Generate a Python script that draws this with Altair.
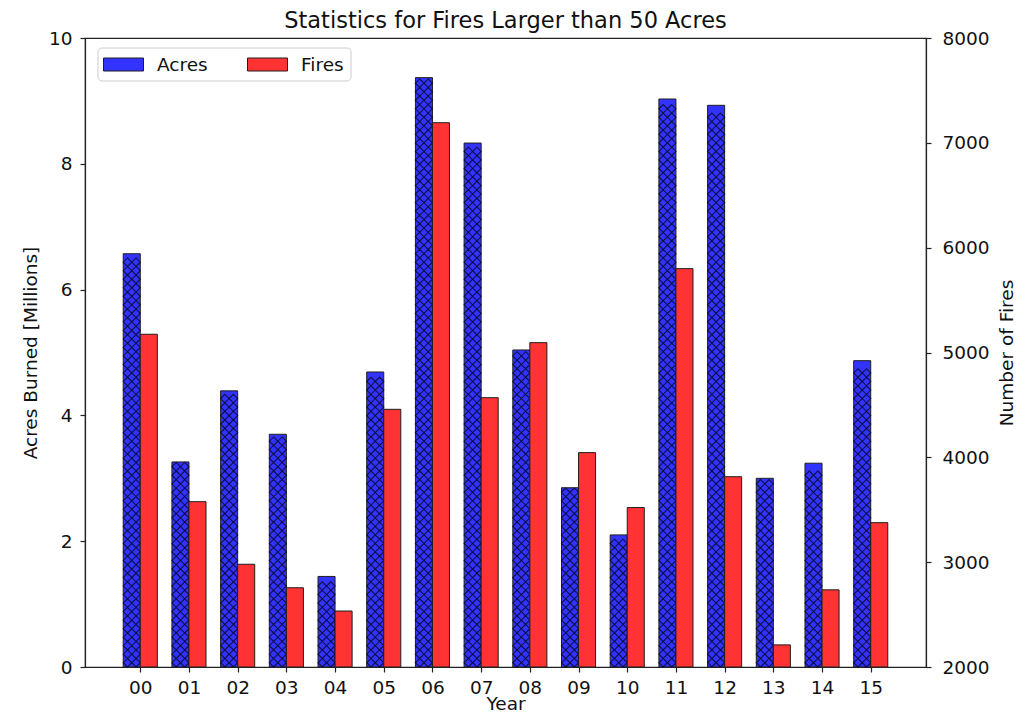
import altair as alt
import pandas as pd

# ---- data ----
years = ["00", "01", "02", "03", "04", "05", "06", "07",
         "08", "09", "10", "11", "12", "13", "14", "15"]
acres = [6.57, 3.26, 4.39, 3.70, 1.44, 4.69, 9.37, 8.33,
         5.04, 2.85, 2.10, 9.03, 8.93, 3.00, 3.24, 4.87]   # millions
fires = [5174, 3577, 2980, 2756, 2534, 4458, 7192, 4569,
         5094, 4045, 3521, 5800, 3815, 2211, 2736, 3377]
series = ["Acres", "Fires"]

# ---- layout / style constants ----
W, H = 841, 629
BAR = 0.35
XMIN, XMAX = -1.135, 16.135
ACRES_DOM = [0, 10]
FIRES_DOM = [2000, 8000]
BLUE, RED = "#3333ff", "#ff3333"
EDGE = "#1e1e1e"
FONT = "DejaVu Sans"
FS = 18.5
NCOL = 2                                  # hatch cells across one bar

px_per_x = W / (XMAX - XMIN)
CELL_PX = BAR * px_per_x / NCOL           # hatch cell size in pixels
DY = CELL_PX / (H / (ACRES_DOM[1] - ACRES_DOM[0]))  # same cell in acres units

df = pd.DataFrame({"idx": list(range(len(years))), "year": years,
                   "acres": acres, "fires": fires})

label_list = "[" + ",".join(f"'{y}'" for y in years) + "]"
x_axis = alt.Axis(values=list(range(len(years))), labelExpr=f"{label_list}[datum.value]",
                  title="Year", grid=False, tickSize=5, labelPadding=6,
                  titlePadding=-2)
x_scale = alt.Scale(domain=[XMIN, XMAX], nice=False, zero=False)
color_scale = alt.Scale(domain=series, range=[BLUE, RED])
color_legend = alt.Legend(title=None)

base = alt.Chart(df)

acres_bars = base.mark_bar(stroke=EDGE, strokeWidth=1, opacity=1).transform_calculate(
    x0=f"datum.idx - {BAR}", x1="datum.idx", series=f"'{series[0]}'"
).encode(
    x=alt.X("x0:Q", scale=x_scale, axis=x_axis),
    x2="x1:Q",
    y=alt.Y("acres:Q", scale=alt.Scale(domain=ACRES_DOM, nice=False), stack=None,
            axis=alt.Axis(title="Acres Burned [Millions]", values=[0, 2, 4, 6, 8, 10],
                          format="d", grid=False, tickSize=5, labelPadding=8,
                          titlePadding=8)),
    y2=alt.datum(0),
    color=alt.Color("series:N", scale=color_scale, legend=color_legend),
)

hatch = base.transform_calculate(
    rows=f"sequence(0, floor(datum.acres / {DY}))",
    cols=f"sequence(0, {NCOL})",
).transform_flatten(["rows"], as_=["row"]).transform_flatten(["cols"], as_=["col"]).transform_calculate(
    hx=f"datum.idx - {BAR} + (datum.col + 0.5) * {BAR / NCOL}",
    hy=f"(datum.row + 0.5) * {DY}",
).mark_point(
    shape="M0,-1L1,0L0,1L-1,0Z", size=CELL_PX * CELL_PX, filled=False,
    fill="transparent", stroke="#0a0a30", strokeWidth=1.1, opacity=0.85,
).encode(
    x=alt.X("hx:Q", scale=x_scale, axis=x_axis),
    y=alt.Y("hy:Q", scale=alt.Scale(domain=ACRES_DOM, nice=False)),
)

fires_bars = base.mark_bar(stroke=EDGE, strokeWidth=1, clip=True).transform_calculate(
    x0="datum.idx", x1=f"datum.idx + {BAR}", series=f"'{series[1]}'"
).encode(
    x=alt.X("x0:Q", scale=x_scale, axis=x_axis),
    x2="x1:Q",
    y=alt.Y("fires:Q", scale=alt.Scale(domain=FIRES_DOM, nice=False, zero=False),
            stack=None,
            axis=alt.Axis(title="Number of Fires", orient="right",
                          values=[2000, 3000, 4000, 5000, 6000, 7000, 8000],
                          format="d", grid=False, tickSize=5, labelPadding=11,
                          titlePadding=8, titleAngle=270, titleBaseline="top")),
    y2=alt.datum(FIRES_DOM[0]),
    color=alt.Color("series:N", scale=color_scale, legend=color_legend),
)

left = alt.layer(acres_bars, hatch)
chart = alt.layer(left, fires_bars).resolve_scale(y="independent").properties(
    width=W, height=H,
    title=alt.Title("Statistics for Fires Larger than 50 Acres", fontSize=22.5,
                    font=FONT, fontWeight="normal", color="#111", offset=8, dy=11),
    padding={"left": 77, "top": 30, "right": 97, "bottom": 47},
    autosize=alt.AutoSizeParams(type="none"),
).configure_view(
    stroke="#222", strokeWidth=1.2
).configure_axis(
    labelFont=FONT, titleFont=FONT, labelFontSize=FS, titleFontSize=FS,
    labelColor="#111", titleColor="#111", titleFontWeight="normal",
    domainColor="#222", tickColor="#222", domainWidth=1.2, tickWidth=1.2,
).configure_legend(
    orient="none", legendX=12.5, legendY=9.5, direction="horizontal",
    labelFont=FONT, labelFontSize=FS, labelColor="#111",
    symbolType="M-2,-0.65L2,-0.65L2,0.65L-2,0.65Z", symbolSize=400,
    symbolOffset=9,
    symbolStrokeColor=EDGE, symbolStrokeWidth=1, symbolOpacity=1,
    labelOffset=23, columnPadding=37,
    padding=6.5, strokeColor="#cccccc", fillColor="white", cornerRadius=4,
)

chart.save("out.html", embed_options={"renderer": "svg", "actions": False})
